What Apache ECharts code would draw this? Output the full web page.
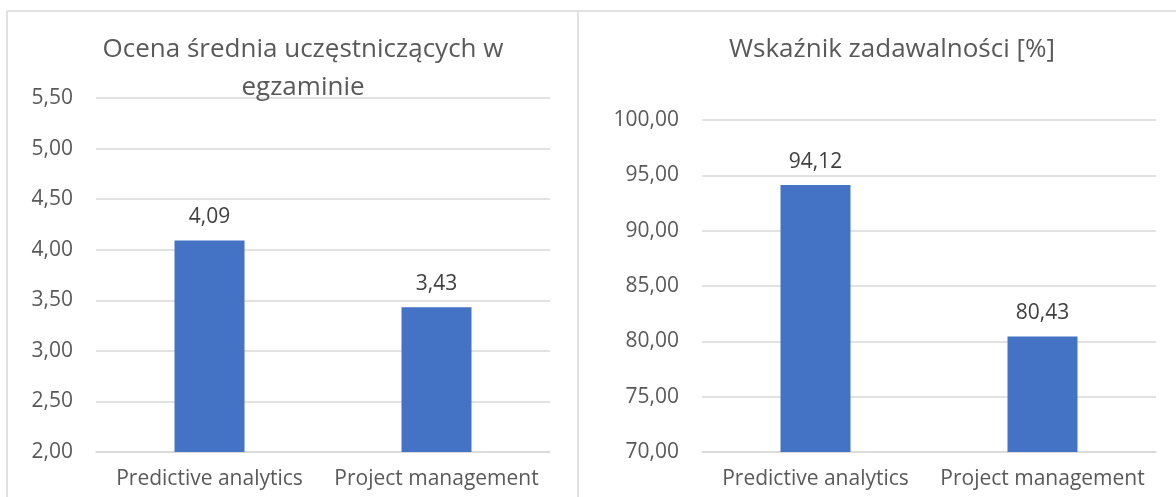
<!DOCTYPE html>
<html>
<head>
<meta charset="utf-8">
<script src="https://cdn.jsdelivr.net/npm/echarts@6/dist/echarts.min.js"></script>
<style>
  html, body { margin: 0; padding: 0; background: #fff; }
  #chart { width: 1176px; height: 497px; }
</style>
</head>
<body>
<div id="chart"></div>
<script>
// Courses compared in both panels
const categories = ['Predictive analytics', 'Project management'];

// Left panel: average exam score of participants
const scoreTitle = 'Ocena średnia uczęstniczących w\negzaminie';
const scoreValues = [4.09, 3.43];

// Right panel: satisfaction rate in percent
const satisfactionTitle = 'Wskaźnik zadawalności [%]';
const satisfactionValues = [94.12, 80.43];

const FONT = '"Open Sans", "Noto Sans", sans-serif';
const TEXT = '#595959';
const GRID_LINE = '#d9d9d9';
const BAR = '#4472c4';

const comma = v => v.toFixed(2).replace('.', ',');

const chart = echarts.init(document.getElementById('chart'), null, { renderer: 'canvas' });

function yAxis(gridIndex, min, max, interval) {
  return {
    type: 'value', gridIndex, min, max, interval,
    axisLine: { show: false }, axisTick: { show: false },
    splitLine: { lineStyle: { color: GRID_LINE, width: 1.5 } },
    axisLabel: { color: TEXT, fontFamily: FONT, fontSize: 21, margin: 23, formatter: comma }
  };
}
function xAxis(gridIndex) {
  return {
    type: 'category', gridIndex, data: categories,
    axisLine: { lineStyle: { color: GRID_LINE, width: 1.5 } }, axisTick: { show: false },
    axisLabel: { color: TEXT, fontFamily: FONT, fontSize: 21, margin: 17,
                 interval: 0, hideOverlap: false, align: 'center' }
  };
}
function barSeries(i, values) {
  return {
    type: 'bar', xAxisIndex: i, yAxisIndex: i, data: values,
    barWidth: 70, itemStyle: { color: BAR },
    label: { show: true, position: 'top', distance: 13, color: '#404040',
             fontFamily: FONT, fontSize: 21, formatter: p => comma(p.value) }
  };
}

chart.setOption({
  animation: false,
  backgroundColor: '#fff',
  title: [
    { text: scoreTitle, left: 298, top: 26, textAlign: 'center',
      textStyle: { color: TEXT, fontFamily: FONT, fontSize: 26, fontWeight: 'normal', lineHeight: 38, align: 'center' } },
    { text: satisfactionTitle, left: 887, top: 26, textAlign: 'center',
      textStyle: { color: TEXT, fontFamily: FONT, fontSize: 26, fontWeight: 'normal', lineHeight: 38 } }
  ],
  grid: [
    { left: 96, right: 626, top: 98, bottom: 45 },
    { left: 702, right: 20, top: 120, bottom: 45 }
  ],
  xAxis: [xAxis(0), xAxis(1)],
  yAxis: [yAxis(0, 2, 5.5, 0.5), yAxis(1, 70, 100, 5)],
  series: [barSeries(0, scoreValues), barSeries(1, satisfactionValues)],
  graphic: [
    { type: 'line', shape: { x1: 7, y1: 11, x2: 1176, y2: 11 }, style: { stroke: GRID_LINE, lineWidth: 1.5 } },
    { type: 'line', shape: { x1: 7, y1: 11, x2: 7, y2: 497 }, style: { stroke: GRID_LINE, lineWidth: 1.5 } },
    { type: 'line', shape: { x1: 578, y1: 11, x2: 578, y2: 497 }, style: { stroke: GRID_LINE, lineWidth: 1.5 } }
  ]
});
</script>
</body>
</html>
